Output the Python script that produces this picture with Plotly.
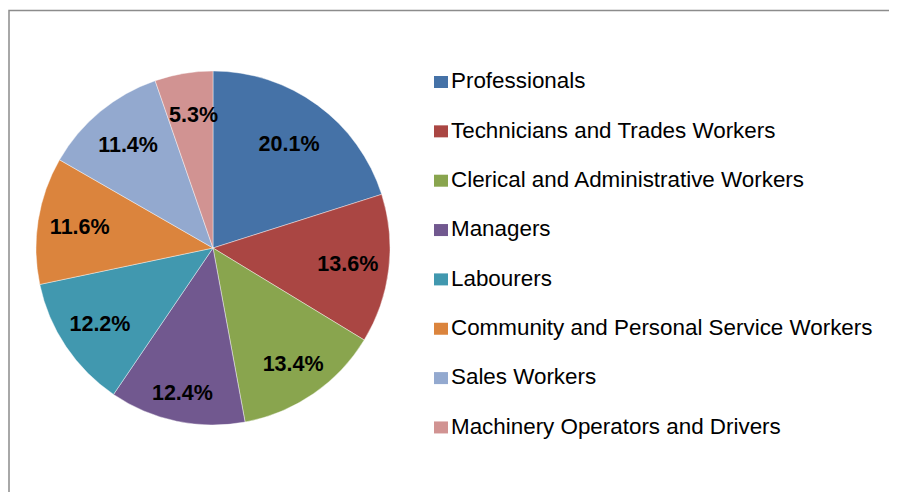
import math
import plotly.graph_objects as go

categories = [
    "Professionals",
    "Technicians and Trades Workers",
    "Clerical and Administrative Workers",
    "Managers",
    "Labourers",
    "Community and Personal Service Workers",
    "Sales Workers",
    "Machinery Operators and Drivers",
]
shares = [20.1, 13.6, 13.4, 12.4, 12.2, 11.6, 11.4, 5.3]
colors = ["#4572A7", "#AA4643", "#89A54E", "#71588F",
          "#4198AF", "#DB843D", "#93A9CF", "#D19392"]

# the page body has an 8px margin; the figure is sized and placed to fit the window
OFF = 8
W, H = 897 - OFF, 492 - OFF
FONT = "Arial, Liberation Sans, sans-serif"
CX, CY = 213 - OFF, 248 - OFF   # pie centre in figure pixels
R = 177                          # pie radius in pixels
# radius (px) of the transparent label-carrier pie for each slice (label placement only)
LABEL_R = [205, 192, 199, 205, 187, 183, 180, None]
SMALL_LABEL_DIST = 134           # px from the centre for the narrow last slice


def dom(r):
    return dict(x=[(CX - r) / W, (CX + r) / W], y=[1 - (CY + r) / H, 1 - (CY - r) / H])


LABEL_FONT = dict(family=FONT, size=21.5, color="black", weight="bold")

fig = go.Figure()
fig.add_trace(go.Pie(
    labels=categories, values=shares, sort=False, direction="clockwise", rotation=0,
    marker=dict(colors=colors, line=dict(width=0.7, color="rgba(255,255,255,0.6)")),
    textinfo="none", domain=dom(R), showlegend=False,
    hoverinfo="label+percent",
))
# transparent copies of the pie that carry the percentage labels (placed further out, as in Excel)
for i, lr in enumerate(LABEL_R):
    if lr is None:
        continue
    tpl = ["%{value:.1f}%" if j == i else "" for j in range(len(shares))]
    fig.add_trace(go.Pie(
        labels=categories, values=shares, sort=False, direction="clockwise", rotation=0,
        marker=dict(colors=["rgba(0,0,0,0)"] * len(shares), line=dict(width=0)),
        texttemplate=tpl, textposition="inside", insidetextorientation="horizontal",
        textfont=LABEL_FONT, domain=dom(lr), showlegend=False, hoverinfo="skip",
    ))

annotations = []
# the narrow last slice is too thin for an inside label at this size: place it on its bisector
total = sum(shares)
cum = 0.0
for i, v in enumerate(shares):
    if LABEL_R[i] is None:
        ang = 2 * math.pi * (cum + v / 2) / total
        px = CX + SMALL_LABEL_DIST * math.sin(ang)
        py = CY - SMALL_LABEL_DIST * math.cos(ang)
        annotations.append(dict(xref="paper", yref="paper", x=(px + 3) / W, y=1 - (py - 1) / H,
                                xanchor="center", yanchor="middle", showarrow=False,
                                text=f"{v:.1f}%", font=LABEL_FONT))
    cum += v

shapes = [dict(type="rect", xref="paper", yref="paper",
               x0=1 / W, x1=1.1, y0=-0.2, y1=1 - (10.5 - OFF) / H,
               line=dict(color="#8c8c8c", width=1.5), fillcolor="rgba(0,0,0,0)")]
row0, step = 82 - OFF, 49.35
for i, (cat, col) in enumerate(zip(categories, colors)):
    yc = row0 + step * i
    shapes.append(dict(type="rect", xref="paper", yref="paper",
                       x0=(434 - OFF) / W, x1=(448 - OFF) / W,
                       y0=1 - (yc + 6) / H, y1=1 - (yc - 6) / H,
                       line=dict(width=0), fillcolor=col))
    annotations.append(dict(xref="paper", yref="paper", x=(449 - OFF) / W, y=1 - (yc - 1.3) / H,
                            xanchor="left", yanchor="middle", showarrow=False,
                            text=cat, font=dict(family=FONT, size=22.4, color="black")))

fig.update_layout(
    width=W, height=H,
    margin=dict(l=0, r=0, t=0, b=0),
    paper_bgcolor="white",
    plot_bgcolor="white",
    shapes=shapes,
    annotations=annotations,
)

fig.write_html("out.html")
